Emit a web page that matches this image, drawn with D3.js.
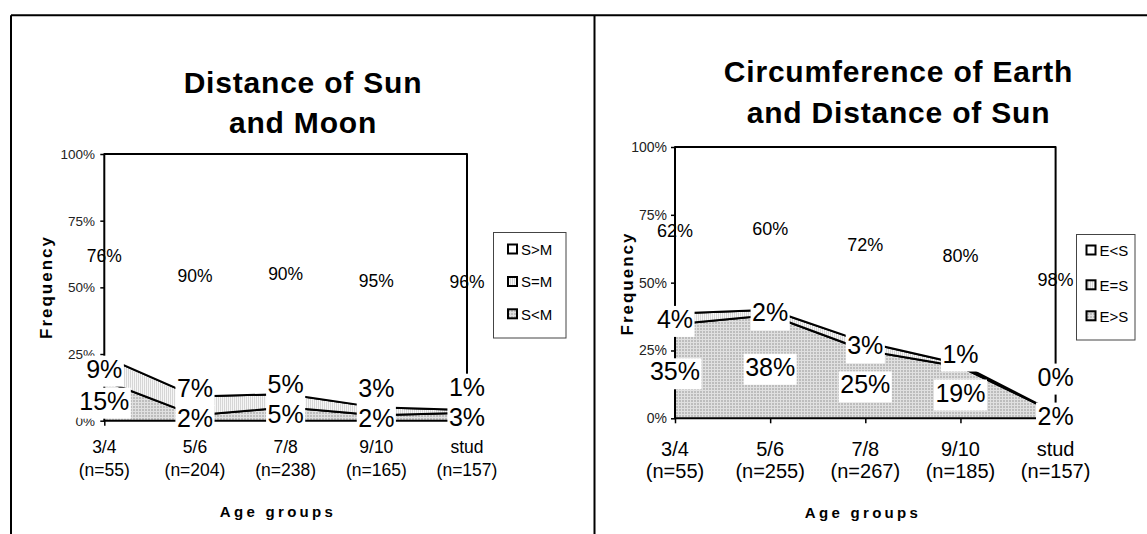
<!DOCTYPE html>
<html>
<head>
<meta charset="utf-8">
<script src="https://cdn.jsdelivr.net/npm/d3@7"></script>
<style>
  body { margin: 0; background: #fff; }
  svg { display: block; }
  svg text { font-family: "Liberation Sans", Arimo, Arial, sans-serif; }
</style>
</head>
<body>
<svg id="chart" width="1147" height="534"></svg>
<script>
// Age groups on the category axis
const ageGroups = ["3/4", "5/6", "7/8", "9/10", "stud"];

// Distance of Sun and Moon (percent of answers per age group)
const sunMoonN = [55, 204, 238, 165, 157];
const sunMoonKeys = ["S<M", "S=M", "S>M"];          // stacked bottom to top
const sunCloser = [15, 2, 5, 2, 3];                  // S<M
const sunEqual = [9, 7, 5, 3, 1];                    // S=M
const sunFarther = [76, 90, 90, 95, 96];             // S>M

// Circumference of Earth and Distance of Sun
const earthSunN = [55, 255, 267, 185, 157];
const earthSunKeys = ["E>S", "E=S", "E<S"];         // stacked bottom to top
const earthBigger = [35, 38, 25, 19, 2];             // E>S
const earthEqual = [4, 2, 3, 1, 0];                  // E=S
const earthSmaller = [62, 60, 72, 80, 98];           // E<S

const yTickValues = [0, 0.25, 0.5, 0.75, 1];

const FONT = "'Liberation Sans', Arimo, Arial, sans-serif";
const svg = d3.select("#chart");

// Halftone-like fills
const defs = svg.append("defs");
const grid = defs.append("pattern").attr("id", "fillGrid")
  .attr("width", 3).attr("height", 3).attr("patternUnits", "userSpaceOnUse");
grid.append("rect").attr("width", 3).attr("height", 3).attr("fill", "#bdbdbd");
grid.append("rect").attr("width", 3).attr("height", 1).attr("fill", "#e0e0e0");
grid.append("rect").attr("width", 1).attr("height", 3).attr("fill", "#e0e0e0");

const stripe = defs.append("pattern").attr("id", "fillStripe")
  .attr("width", 2).attr("height", 2).attr("patternUnits", "userSpaceOnUse");
stripe.append("rect").attr("width", 2).attr("height", 2).attr("fill", "#f6f6f6");
stripe.append("rect").attr("width", 1).attr("height", 2).attr("fill", "#d6d6d6");

const fills = ["url(#fillGrid)", "url(#fillStripe)", "#ffffff"];

// Panel frame
svg.append("path")
  .attr("d", "M11,15.3H1147M11,15.3V534M594.5,15.3V534")
  .attr("fill", "none").attr("stroke", "#000").attr("stroke-width", 2);

function drawChart(cfg) {
  const g = svg.append("g").attr("font-family", FONT);
  const x = d3.scalePoint().domain(ageGroups).range([cfg.x0, cfg.x1]);
  const y = d3.scaleLinear().domain([0, 1]).range([cfg.y0, cfg.y1]);

  const rows = ageGroups.map((a, i) => {
    const r = {};
    cfg.keys.forEach((k, j) => { r[k] = cfg.values[j][i]; });
    return r;
  });
  const series = d3.stack().keys(cfg.keys).offset(d3.stackOffsetExpand)(rows);

  const area = d3.area()
    .x((d, i) => x(ageGroups[i]))
    .y0(d => y(d[0]))
    .y1(d => y(d[1]));

  g.selectAll("path.area").data(series).join("path")
    .attr("class", "area")
    .attr("d", area)
    .attr("fill", (d, j) => fills[j])
    .attr("stroke", "#000")
    .attr("stroke-width", 2)
    .attr("stroke-linejoin", "round");

  // Value axis
  const yAxis = g.append("g")
    .attr("transform", `translate(${cfg.x0},0)`)
    .call(d3.axisLeft(y).tickValues(yTickValues).tickFormat(d3.format(".0%")).tickSize(4).tickPadding(cfg.x0 - cfg.yTickRight - 4));
  yAxis.attr("font-family", FONT);
  yAxis.select(".domain").remove();
  yAxis.selectAll(".tick line").attr("stroke", "#000").attr("stroke-width", 1.5);
  yAxis.selectAll(".tick text").attr("font-size", cfg.yTickFont).attr("fill", "#222");

  // Category axis ticks
  const xAxis = g.append("g")
    .attr("transform", `translate(0,${cfg.y0})`)
    .call(d3.axisBottom(x).tickSize(5).tickFormat(""));
  xAxis.select(".domain").remove();
  xAxis.selectAll(".tick line").attr("stroke", "#000").attr("stroke-width", 1.5);

  // Category labels (two lines)
  const catText = g.selectAll("text.cat").data(ageGroups).join("text")
    .attr("class", "cat")
    .attr("text-anchor", "middle")
    .attr("font-size", cfg.xTickFont)
    .attr("fill", "#000");
  catText.append("tspan").attr("x", d => x(d)).attr("y", cfg.catBase[0]).text(d => d);
  catText.append("tspan").attr("x", d => x(d)).attr("y", cfg.catBase[1])
    .text((d, i) => `(n=${cfg.n[i]})`);

  // Data labels
  const [sBottom, sMid, sTop] = series;
  const labels = g.append("g");
  ageGroups.forEach((a, i) => {
    const cx = x(a);
    const yBottom = (y(sBottom[i][0]) + y(sBottom[i][1])) / 2;
    const yMid = Math.min((y(sMid[i][0]) + y(sMid[i][1])) / 2, yBottom - cfg.midGap);
    const yTop = (y(sTop[i][0]) + y(sTop[i][1])) / 2;

    labels.append("text")
      .attr("x", cx).attr("y", yTop).attr("dy", "0.36em")
      .attr("text-anchor", "middle").attr("font-size", cfg.topFont).attr("fill", "#000")
      .text(cfg.values[2][i] + "%");

    [[yBottom, cfg.values[0][i]], [yMid, cfg.values[1][i]]].forEach(([ly, v]) => {
      const lg = labels.append("g");
      const t = lg.append("text")
        .attr("x", cx).attr("y", ly).attr("dy", "0.36em")
        .attr("text-anchor", "middle").attr("font-size", 25).attr("fill", "#000")
        .text(v + "%");
      const bb = t.node().getBBox();
      lg.insert("rect", "text")
        .attr("x", bb.x - 1.5).attr("y", bb.y + 1).attr("width", bb.width + 3).attr("height", bb.height + 3)
        .attr("fill", "#fff");
    });
  });

  // Titles
  const title = g.append("text").attr("text-anchor", "middle")
    .attr("font-size", 30).attr("font-weight", "bold").attr("letter-spacing", 0.8);
  cfg.title.forEach((line, k) => {
    title.append("tspan").attr("x", cfg.titleX).attr("y", cfg.titleY[k]).text(line);
  });

  g.append("text")
    .attr("transform", `translate(${cfg.freqX},${cfg.freqY}) rotate(-90)`)
    .attr("text-anchor", "middle").attr("font-size", 17).attr("font-weight", "bold")
    .attr("letter-spacing", 2)
    .text("Frequency");

  g.append("text")
    .attr("x", cfg.ageX).attr("y", cfg.ageY)
    .attr("text-anchor", "middle").attr("font-size", 15).attr("font-weight", "bold")
    .attr("letter-spacing", 3.3)
    .text("Age groups");

  // Legend (top series first)
  const L = cfg.legend;
  g.append("rect")
    .attr("x", L.x).attr("y", L.y).attr("width", L.w).attr("height", L.h)
    .attr("fill", "#fff").attr("stroke", "#444").attr("stroke-width", 1);
  const order = [2, 1, 0];
  order.forEach((j, r) => {
    g.append("rect")
      .attr("x", L.swatchX).attr("y", L.rows[r] - 5).attr("width", 9).attr("height", 9)
      .attr("fill", fills[j]).attr("stroke", "#000").attr("stroke-width", 2);
    g.append("text")
      .attr("x", L.textX).attr("y", L.rows[r]).attr("dy", "0.36em")
      .attr("font-size", 15).attr("fill", "#000")
      .text(cfg.keys[j]);
  });
}

drawChart({
  keys: sunMoonKeys,
  values: [sunCloser, sunEqual, sunFarther],
  n: sunMoonN,
  x0: 104.3, x1: 467, y0: 420.7, y1: 154,
  yTickFont: 13.5, yTickRight: 95,
  xTickFont: 17.5, catBase: [453.3, 476],
  topFont: 17.5, midGap: 30,
  title: ["Distance of Sun", "and Moon"], titleX: 303, titleY: [92.6, 132.8],
  freqX: 51.5, freqY: 287,
  ageX: 278, ageY: 517,
  legend: { x: 493.5, y: 232.5, w: 72.5, h: 105.5, swatchX: 508, textX: 521, rows: [249.5, 282, 314.3] }
});

drawChart({
  keys: earthSunKeys,
  values: [earthBigger, earthEqual, earthSmaller],
  n: earthSunN,
  x0: 675, x1: 1055.6, y0: 418.3, y1: 147,
  yTickFont: 14, yTickRight: 667,
  xTickFont: 20, catBase: [456, 477.5],
  topFont: 18, midGap: 39,
  title: ["Circumference of Earth", "and Distance of Sun"], titleX: 898.5, titleY: [81.7, 122.6],
  freqX: 633, freqY: 283.5,
  ageX: 863, ageY: 518,
  legend: { x: 1076.5, y: 234.5, w: 58.5, h: 105.5, swatchX: 1086.5, textX: 1099.5, rows: [250.5, 285.3, 316.3] }
});
</script>
</body>
</html>
